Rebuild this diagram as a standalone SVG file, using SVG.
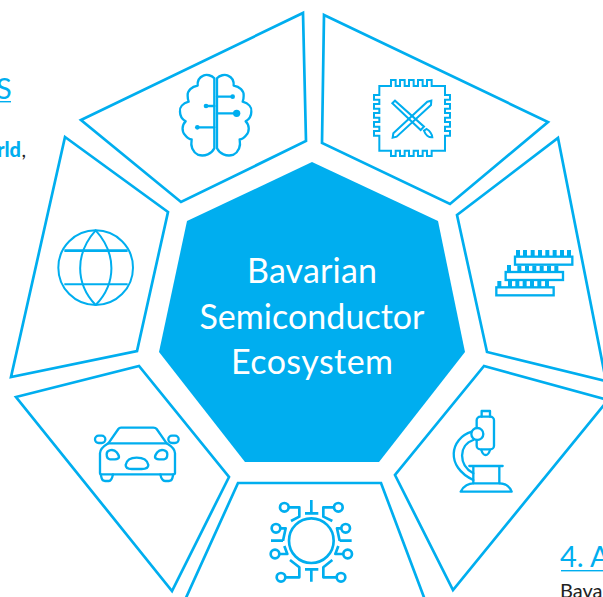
<svg xmlns="http://www.w3.org/2000/svg" width="603" height="597" viewBox="0 0 603 597">
<style>
.seg{fill:#fff;stroke:#00aeef;stroke-width:2.7;stroke-linejoin:miter}
.ic{fill:none;stroke:#00aeef;stroke-width:7;stroke-linecap:round;stroke-linejoin:round}
.fl{fill:#00aeef;stroke:none}
.ct{font-family:Lato,"Open Sans",sans-serif;font-size:34px;fill:#fff;text-anchor:middle}
.t{font-family:Lato,"Open Sans",sans-serif}
</style>
<rect width="603" height="597" fill="#fff"/>
<g id="bg-text">
<text class="t" x="-4" y="99" font-size="29" fill="#00aeef">S</text>
<rect x="0" y="101" width="11" height="1.4" fill="#00aeef"/>
<text class="t" x="21" y="157" font-size="20" font-weight="900" fill="#00aeef" text-anchor="end">rld</text>
<text class="t" x="21.500" y="157" font-size="20" fill="#222">,</text>
<text class="t" x="560" y="567" font-size="29" fill="#00aeef">4. A</text>
<rect x="561" y="570" width="42" height="1.4" fill="#00aeef"/>
<text class="t" x="560" y="598" font-size="20" fill="#222">Bava</text>
</g>
<g id="node-center">
<polygon points="312,162 438,221 465,352 379,462 245,462 159,352 187,221" fill="#00aeef"/>
<text class="ct" x="312" y="283" textLength="130">Bavarian</text>
<text class="ct" x="312" y="329" textLength="225">Semiconductor</text>
<text class="ct" x="312" y="374" textLength="162">Ecosystem</text>
</g>
<g id="node-brain">
<polygon class="seg" points="81,120 303,13 306,141 181,202"/>
<g transform="translate(150 50) scale(.3333)" class="ic">
<path d="M193,85C185,76 170,72 160,77C148,82 142,92 143,107C125,110 112,122 113,137C113,145 114,150 116,155C98,160 88,172 90,185C90,198 97,208 107,214C95,225 95,245 105,255C112,264 120,268 125,268C122,285 125,305 145,315C165,320 185,312 193,295Z"/>
<path d="M201,85C209,76 224,72 234,77C246,82 252,92 251,107C269,110 282,122 281,137C281,145 280,150 278,155C296,160 306,172 304,185C304,198 297,208 287,214C299,225 299,245 289,255C282,264 274,268 269,268C272,285 269,305 249,315C229,320 209,312 201,295Z"/>
<path d="M201,140H248M201,190H260M193,168H168M193,232H142"/>
<circle class="fl" cx="248" cy="140" r="7"/><circle class="fl" cx="260" cy="190" r="11"/><circle class="fl" cx="168" cy="168" r="7"/><circle class="fl" cx="142" cy="232" r="7"/>
</g>
</g>
<g id="node-chip">
<polygon class="seg" points="324,15 548,122 450,204 322,143"/>
<g transform="translate(350 60) scale(.3333)" class="ic" style="stroke-width:6;stroke-linecap:butt;stroke-linejoin:miter">
<path d="M88,78H123V60H137V78H150V60H164V78H177V60H191V78H204V60H218V78H231V60H245V78H285V105H300V119H285V132H300V146H285V159H300V173H285V186H300V200H285V213H300V227H285V272H245V288H231V272H218V288H204V272H191V288H177V272H164V288H150V272H137V288H123V272H88V227H72V213H88V200H72V186H88V173H72V159H88V146H72V132H88V119H72V105H88Z"/>
<path d="M127,130L135,122L222,200L212,210Z"/>
<path d="M232,125L244,122L243,135L140,230L128,233L130,220Z"/>
<path d="M222,212L230,207C238,212 246,222 247,232C236,233 226,224 222,212Z"/>
</g>
</g>
<g id="node-memory">
<polygon class="seg" points="558,138 606,381 487,352 457,215"/>
<g transform="translate(480 230) scale(.3333)">
<g class="ic" style="stroke-linecap:butt;stroke-linejoin:miter">
<rect x="105" y="80" width="172" height="24"/><rect x="77" y="126" width="172" height="24"/><rect x="49" y="172" width="172" height="24"/>
</g>
<path class="fl" d="M108,60h12v18h-12zM129,60h12v18h-12zM152,60h12v18h-12zM174,60h12v18h-12zM196,60h12v18h-12zM218,60h12v18h-12zM240,60h12v18h-12zM261,60h12v18h-12zM81,105h12v20h-12zM112,107h12v18h-12zM135,107h12v18h-12zM157,107h12v18h-12zM179,107h12v18h-12zM201,107h12v18h-12zM223,107h12v18h-12zM52,153h12v18h-12zM84,153h12v18h-12zM106,153h12v18h-12zM128,153h12v18h-12zM150,153h12v18h-12zM172,153h12v18h-12zM195,153h12v18h-12z"/>
</g>
</g>
<g id="node-microscope">
<polygon class="seg" points="484,366 608,400 453,590 395,475"/>
<g transform="translate(430 400) scale(.3333)" class="ic">
<path d="M155,50V33H180V50"/>
<rect x="140" y="50" width="52" height="98" rx="11"/>
<path d="M154,150C160,170 174,170 180,150"/>
<circle cx="142" cy="102" r="18" fill="#fff"/>
<path d="M125,95C60,115 45,200 130,240"/>
<path d="M130,120C85,135 85,195 130,220"/>
<path d="M118,198H218M130,198V250M208,198V250"/>
<path d="M92,275C100,257 118,250 130,250H208C225,250 238,257 245,275Z"/>
</g>
</g>
<g id="node-circuit">
<polygon class="seg" points="238,483 381,483 425,600 185,600"/>
<g transform="translate(255 490) scale(.3333)" class="ic" style="stroke-linecap:butt;stroke-width:8">
<circle cx="169" cy="152" r="67"/>
<path d="M169,30V70M150,70H190M150,238H190M169,238V275"/>
<circle cx="88" cy="52" r="13"/><path d="M101,52H133V80L108,93"/>
<circle cx="250" cy="52" r="13"/><path d="M237,52H205V80L232,93"/>
<circle cx="63" cy="115" r="13"/><path d="M76,115H92L84,152M48,152H84"/>
<circle cx="272" cy="115" r="13"/><path d="M259,115H246L254,152M290,152H254"/>
<circle cx="60" cy="192" r="13"/><path d="M73,192H97L88,168"/>
<circle cx="278" cy="192" r="13"/><path d="M265,192H241L250,168"/>
<circle cx="78" cy="262" r="13"/><path d="M91,262H133V232L105,210"/>
<circle cx="258" cy="262" r="13"/><path d="M245,262H205V232L232,210"/>
</g>
</g>
<g id="node-car">
<polygon class="seg" points="16,397 139,366 229,477 172,591"/>
<g transform="translate(85 415) scale(.3333)" class="ic">
<path d="M70,85L100,42Q103,38 108,38H205Q212,38 215,42L245,85"/>
<path d="M45,175V115Q45,100 70,85H245Q270,100 270,115V175Q270,178 262,178H53Q45,178 45,175Z"/>
<path d="M47,178L50,190Q52,198 60,198H72Q80,198 84,178M226,178Q230,198 240,198H252Q260,198 262,190L265,178"/>
<rect x="30" y="62" width="31" height="22" rx="11"/><rect x="250" y="62" width="31" height="22" rx="11"/>
<path d="M65,118C65,105 85,100 95,112C105,125 105,132 90,133H75C65,132 65,125 65,118Z"/>
<path d="M247,118C247,105 227,100 217,112C207,125 207,132 222,133H237C247,132 247,125 247,118Z"/>
<path d="M122,150C125,135 135,128 155,128C175,128 187,135 190,150C190,160 180,162 170,162H140C130,162 122,160 122,150Z"/>
</g>
</g>
<g id="node-globe">
<polygon class="seg" points="65,137 168,212 137,351 11,377"/>
<g transform="translate(45 220) scale(.3333)" class="ic" style="stroke-linecap:butt;stroke-width:6">
<circle cx="152" cy="143" r="112"/>
<path d="M58,92H248" style="stroke-width:8"/><path d="M58,193H248"/>
<path d="M152,31C90,100 90,190 152,255C215,190 215,100 152,31Z"/>
</g>
</g>
</svg>
